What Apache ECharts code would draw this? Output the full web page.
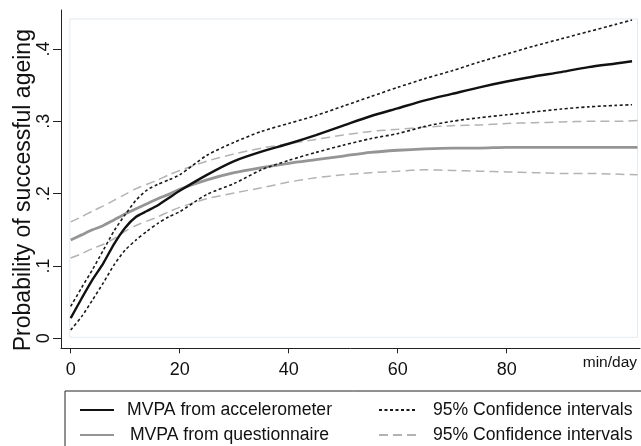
<!DOCTYPE html>
<html><head><meta charset="utf-8">
<script src="https://cdn.jsdelivr.net/npm/echarts@6/dist/echarts.min.js"></script>
<style>html,body{margin:0;padding:0;background:#fff}#c{width:641px;height:446px}</style>
</head><body><div id="c"></div>
<script>
// ---- data ----
const minutesAcc = [0,2,4,6,8,10,12,14,16,18,20,25,30,35,40,45,50,55,60,65,70,75,80,85,90,95,100,103];
const minutesQue = [0,2,4,6,8,10,12,14,16,18,20,25,30,35,40,45,50,55,60,65,70,75,80,85,90,95,100,104];
const accel      = [0.028,0.055,0.081,0.104,0.131,0.153,0.168,0.176,0.184,0.194,0.204,0.226,0.245,0.258,0.269,0.281,0.294,0.307,0.318,0.329,0.338,0.347,0.355,0.362,0.368,0.375,0.380,0.383];
const accelUpper = [0.044,0.070,0.095,0.122,0.149,0.171,0.191,0.205,0.213,0.219,0.226,0.253,0.271,0.286,0.297,0.308,0.321,0.334,0.347,0.359,0.370,0.382,0.393,0.404,0.414,0.424,0.434,0.440];
const accelLower = [0.0115,0.030,0.053,0.077,0.102,0.122,0.136,0.148,0.159,0.168,0.175,0.199,0.214,0.233,0.246,0.257,0.267,0.276,0.283,0.293,0.300,0.305,0.309,0.313,0.317,0.320,0.322,0.323];
const quest      = [0.136,0.143,0.150,0.156,0.164,0.172,0.179,0.186,0.193,0.199,0.206,0.219,0.229,0.236,0.242,0.247,0.252,0.257,0.260,0.262,0.263,0.263,0.264,0.264,0.264,0.264,0.264,0.264];
const questUpper = [0.161,0.168,0.176,0.183,0.191,0.199,0.207,0.213,0.219,0.226,0.232,0.245,0.255,0.263,0.269,0.275,0.281,0.286,0.289,0.292,0.294,0.295,0.297,0.298,0.299,0.300,0.300,0.301];
const questLower = [0.111,0.117,0.124,0.130,0.138,0.148,0.156,0.162,0.168,0.175,0.181,0.193,0.201,0.208,0.216,0.222,0.226,0.229,0.231,0.233,0.232,0.231,0.230,0.229,0.228,0.228,0.227,0.226];
const xTickValues = [0,20,40,60,80];
const yTickValues = [0,0.1,0.2,0.3,0.4];
const seriesNames = ['MVPA from accelerometer','95% Confidence intervals','MVPA from questionnaire','95% Confidence intervals '];

const FONT = 'Liberation Sans, Arial, sans-serif';
const pairs = (xs, ys) => xs.map((x, i) => [x, ys[i]]);

const chart = echarts.init(document.getElementById('c'), null, {renderer: 'canvas'});
const lineSeries = (name, xs, ys, color, width, type, z) => ({
  type: 'line', name, data: pairs(xs, ys), symbol: 'none', smooth: 0.25,
  lineStyle: {color, width, type}, itemStyle: {color}, z, silent: true
});

const s0 = lineSeries(seriesNames[0], minutesAcc, accel, '#111111', 2.4, 'solid', 6);
s0.markArea = {
  silent: true,
  itemStyle: {color: 'rgba(0,0,0,0)', borderColor: '#e4eaee', borderWidth: 1},
  data: [[{coord: [-0.15, 0.0014]}, {coord: [104, 0.4415]}]]
};

chart.setOption({
  animation: false,
  backgroundColor: '#ffffff',
  textStyle: {fontFamily: FONT},
  grid: {left: 61, right: 1, top: 10, bottom: 97.7, outerBoundsMode: 'none', containLabel: false},
  xAxis: {
    type: 'value', min: -1.78, max: 104.46,
    axisLine: {show: true, onZero: false, lineStyle: {color: '#222', width: 1}},
    axisTick: {show: true, customValues: xTickValues, length: 5, lineStyle: {color: '#222', width: 1}},
    axisLabel: {customValues: xTickValues, margin: 13, fontSize: 18, color: '#111', fontFamily: FONT},
    splitLine: {show: false},
    name: 'min/day', nameLocation: 'end', nameGap: -3,
    nameTextStyle: {fontSize: 15.5, color: '#111', fontFamily: FONT, align: 'right', verticalAlign: 'top', padding: [6, 0, 0, 0]}
  },
  yAxis: {
    type: 'value', min: -0.01383, max: 0.4539,
    axisLine: {show: true, onZero: false, lineStyle: {color: '#222', width: 1}},
    axisTick: {show: true, customValues: yTickValues, length: 8, lineStyle: {color: '#222', width: 1}},
    axisLabel: {customValues: yTickValues, rotate: 90, margin: 8, fontSize: 18, color: '#111', fontFamily: FONT,
      formatter: v => v === 0 ? '0' : String(Math.round(v * 10) / 10).replace(/^0\./, '.')},
    splitLine: {show: false},
    name: 'Probability of successful ageing', nameLocation: 'middle', nameGap: 26, nameMoveOverlap: false,
    nameTextStyle: {fontSize: 23, color: '#111', fontFamily: FONT, padding: [0, 22, 0, 0]}
  },
  legend: [
    {
      orient: 'vertical', left: 65, top: 391, width: 620, height: 100,
      padding: [10, 700, 60, 14], itemWidth: 34, itemHeight: 14, itemGap: 7,
      borderColor: '#222', borderWidth: 1, borderRadius: 0, selectedMode: false,
      itemStyle: {opacity: 0},
      data: [seriesNames[0], seriesNames[2]],
      formatter: n => '{s|}{t|' + n + '}',
      textStyle: {fontFamily: FONT, rich: {
        s: {width: 7, lineHeight: 20},
        t: {width: 207, align: 'center', fontSize: 17.6, lineHeight: 20, color: '#111', fontFamily: FONT}
      }}
    },
    {
      orient: 'vertical', left: 378, top: 391, height: 100,
      padding: [10, 0, 0, 0], itemWidth: 37, itemHeight: 14, itemGap: 7,
      selectedMode: false, itemStyle: {opacity: 0},
      data: [seriesNames[1], seriesNames[3]],
      formatter: n => '{s|}{t|' + n + '}',
      textStyle: {fontFamily: FONT, rich: {
        s: {width: 12, lineHeight: 20},
        t: {fontSize: 17.6, lineHeight: 20, color: '#111', fontFamily: FONT}
      }}
    }
  ],
  series: [
    s0,
    lineSeries(seriesNames[1], minutesAcc, accelUpper, '#1a1a1a', 1.6, [3, 2.5], 5),
    lineSeries(seriesNames[1], minutesAcc, accelLower, '#1a1a1a', 1.6, [3, 2.5], 5),
    lineSeries(seriesNames[2], minutesQue, quest, '#959595', 2.8, 'solid', 4),
    lineSeries(seriesNames[3], minutesQue, questUpper, '#b3b3b3', 1.5, [9, 5], 3),
    lineSeries(seriesNames[3], minutesQue, questLower, '#b3b3b3', 1.5, [9, 5], 3)
  ]
});
</script></body></html>
